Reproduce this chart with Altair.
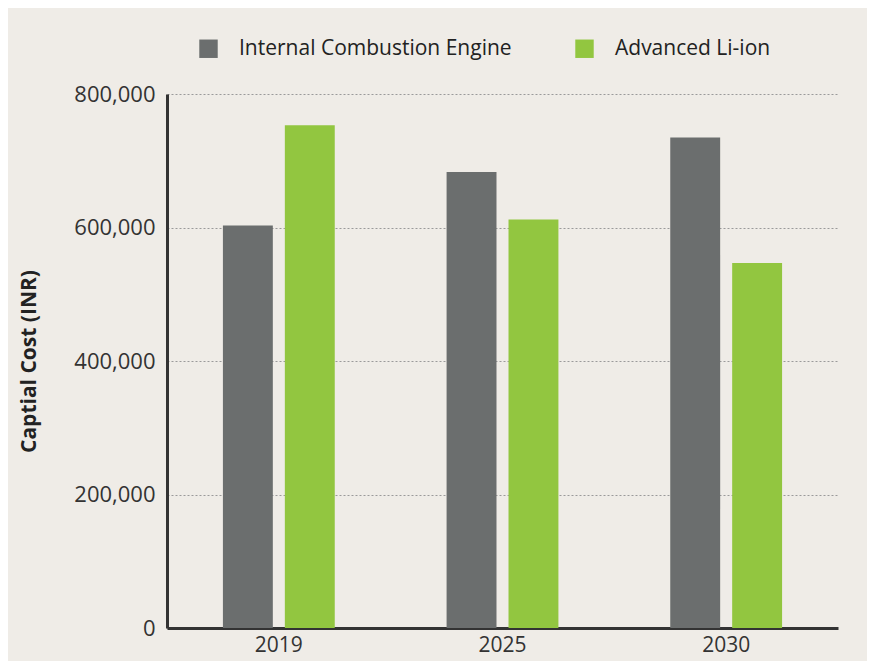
import altair as alt
import pandas as pd

years = ["2019", "2025", "2030"]
series = ["Internal Combustion Engine", "Advanced Li-ion"]
ice_values = [603000, 683000, 735000]
liion_values = [753000, 612000, 547000]
colors = ["#6b6e6e", "#92c640"]

rows = []
for y, v in zip(years, ice_values):
    rows.append({"year": y, "series": series[0], "cost": v})
for y, v in zip(years, liion_values):
    rows.append({"year": y, "series": series[1], "cost": v})
df = pd.DataFrame(rows)

FONT = "Open Sans"

chart = alt.Chart(df).mark_bar().encode(
    x=alt.X("year:N", sort=years,
            scale=alt.Scale(paddingInner=0, paddingOuter=0),
            axis=alt.Axis(title=None, labelAngle=0, ticks=False, labelPadding=6,
                          labelFontSize=21, labelColor="#333333", labelFont=FONT,
                          domainColor="#333333", domainWidth=3, grid=False)),
    xOffset=alt.XOffset("series:N", sort=series,
                        scale=alt.Scale(domain=series, paddingInner=0.194, paddingOuter=0.903)),
    y=alt.Y("cost:Q",
            scale=alt.Scale(domain=[0, 800000], nice=False),
            axis=alt.Axis(title="Captial Cost (INR)", values=[0, 200000, 400000, 600000, 800000],
                          format=",.0f", ticks=False, labelPadding=12,
                          labelFontSize=22, labelColor="#333333", labelFont=FONT,
                          titleFontSize=21, titleFontWeight="bold", titleColor="#222222",
                          titleFont=FONT, titlePadding=34,
                          domainColor="#333333", domainWidth=3,
                          grid=True, gridColor="#9a9a9a", gridDash=[2, 2], gridWidth=1)),
    color=alt.Color("series:N", sort=series,
                    scale=alt.Scale(domain=series, range=colors),
                    legend=alt.Legend(title=None, orient="none", legendX=31, legendY=-56,
                                      direction="horizontal", symbolType="square",
                                      symbolSize=340, symbolStrokeWidth=0,
                                      labelFontSize=21, labelFont=FONT, labelColor="#222222",
                                      labelLimit=0, labelOffset=20, columnPadding=62)),
).properties(
    width=671,
    height=534,
    autosize=alt.AutoSizeParams(type="none"),
    padding={"left": 159, "top": 86, "right": 29, "bottom": 33},
    background="#efece7",
).configure_view(stroke=None)

chart.save("out.html", embed_options={"renderer": "svg", "actions": False})
